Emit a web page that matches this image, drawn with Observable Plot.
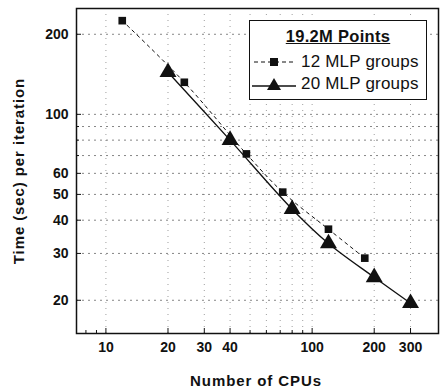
<!DOCTYPE html>
<html>
<head>
<meta charset="utf-8">
<script src="https://cdn.jsdelivr.net/npm/d3@7"></script>
<script src="https://cdn.jsdelivr.net/npm/@observablehq/plot@0.6"></script>
<style>
  html, body { margin: 0; padding: 0; background: #fff; }
  #wrap { position: relative; width: 441px; height: 388px; overflow: hidden; font-family: "Liberation Sans", Arial, sans-serif; }
  #legend { position: absolute; left: 249px; top: 20px; width: 178px; height: 80px; border: 1.5px solid #111; background: #fff; box-sizing: border-box; }
  #legend .title { position: absolute; left: 0; width: 100%; top: 6px; text-align: center; font-weight: bold; font-size: 16.5px; text-decoration: underline; color: #111; letter-spacing: 0.3px; }
  #legend .row { position: absolute; left: 1px; display: flex; align-items: center; font-size: 17px; color: #111; height: 22px; letter-spacing: 0.2px; }
  #legend svg { margin-right: 4px; }
  #ylabel { position: absolute; left: 18px; top: 171px; transform: translate(-50%, -50%) rotate(-90deg); white-space: nowrap; font-weight: bold; font-size: 15px; letter-spacing: 0.9px; color: #111; }
  #xlabel { position: absolute; left: 256px; top: 372px; transform: translateX(-50%); white-space: nowrap; font-weight: bold; font-size: 15px; letter-spacing: 0.9px; color: #111; }
</style>
</head>
<body>
<div id="wrap">
  <div id="chart"></div>
  <div id="ylabel">Time (sec) per iteration</div>
  <div id="xlabel">Number of CPUs</div>
  <div id="legend"></div>
</div>
<script>
const legendTitle = "19.2M Points";
const seriesNames = ["12 MLP groups", "20 MLP groups"];

const cpus12 = [12, 24, 48, 72, 120, 180];
const time12 = [225, 132, 71, 51, 37, 28.8];

const cpus20 = [20, 40, 80, 120, 200, 300];
const time20 = [144, 80, 44, 32.7, 24.4, 19.5];

const xTickLabels = [10, 20, 30, 40, 100, 200, 300];
const yTickLabels = [20, 30, 40, 50, 60, 100, 200];
const xGrid = [10, 20, 30, 40, 50, 60, 70, 80, 90, 100, 200, 300];
const yGrid = [20, 30, 40, 50, 60, 70, 80, 90, 100, 200];
const xMinor = [8, 9, 50, 60, 70, 80, 90];
const yMinor = [70, 80, 90];

const s12 = cpus12.map((x, i) => ({x, y: time12[i]}));
const s20 = cpus20.map((x, i) => ({x, y: time20[i]}));

const chart = Plot.plot({
  width: 441,
  height: 388,
  marginLeft: 76,
  marginRight: 3,
  marginTop: 8,
  marginBottom: 55,
  style: {fontFamily: "'Liberation Sans', Arial, sans-serif", fontSize: "14px", fontWeight: "bold", color: "#111", background: "white"},
  x: {type: "log", domain: [7.2, 410]},
  y: {type: "log", domain: [15, 250]},
  marks: [
    Plot.ruleY(yGrid, {y: d => d, stroke: "#333", strokeWidth: 0.8, strokeDasharray: "2,4", strokeOpacity: 0.75}),
    Plot.ruleX(xGrid, {x: d => d, stroke: "#333", strokeWidth: 0.8, strokeDasharray: "1,5", strokeOpacity: 0.6}),
    Plot.frame({stroke: "#111", strokeWidth: 1.5}),
    Plot.axisX({ticks: xTickLabels, tickFormat: d => String(d), tickSize: -5, tickPadding: 14, label: null, fontSize: 14, fontWeight: "bold"}),
    Plot.axisX({ticks: xMinor, text: null, tickSize: -3, label: null}),
    Plot.axisY({ticks: yTickLabels, tickFormat: d => String(d), tickSize: -5, tickPadding: 13, label: null, fontSize: 14, fontWeight: "bold"}),
    Plot.axisY({ticks: yMinor, text: null, tickSize: -3, label: null}),
    Plot.line(s12, {x: "x", y: "y", stroke: "#111", strokeWidth: 1, strokeDasharray: "3,4", curve: "catmull-rom"}),
    Plot.line(s20, {x: "x", y: "y", stroke: "#111", strokeWidth: 1.3, curve: "catmull-rom"}),
    Plot.dot(s12, {x: "x", y: "y", symbol: "square", r: 4.3, fill: "#111", stroke: "none"}),
    Plot.dot(s20, {x: "x", y: "y", symbol: "triangle", r: 6.3, fill: "#111", stroke: "none"})
  ]
});
document.getElementById("chart").appendChild(chart);

const legend = document.getElementById("legend");
legend.innerHTML = `<div class="title">${legendTitle}</div>` +
  `<div class="row" style="top:30px"><svg width="46" height="14"><line x1="3" x2="44" y1="7" y2="7" stroke="#111" stroke-dasharray="4,3" stroke-width="1"/><rect x="19" y="3" width="8" height="8" fill="#111"/></svg>${seriesNames[0]}</div>` +
  `<div class="row" style="top:52px"><svg width="46" height="16"><line x1="1" x2="45" y1="10" y2="10" stroke="#111" stroke-width="1.5"/><path d="M23,2 L30,14 L16,14 Z" fill="#111"/></svg>${seriesNames[1]}</div>`;
</script>
</body>
</html>
